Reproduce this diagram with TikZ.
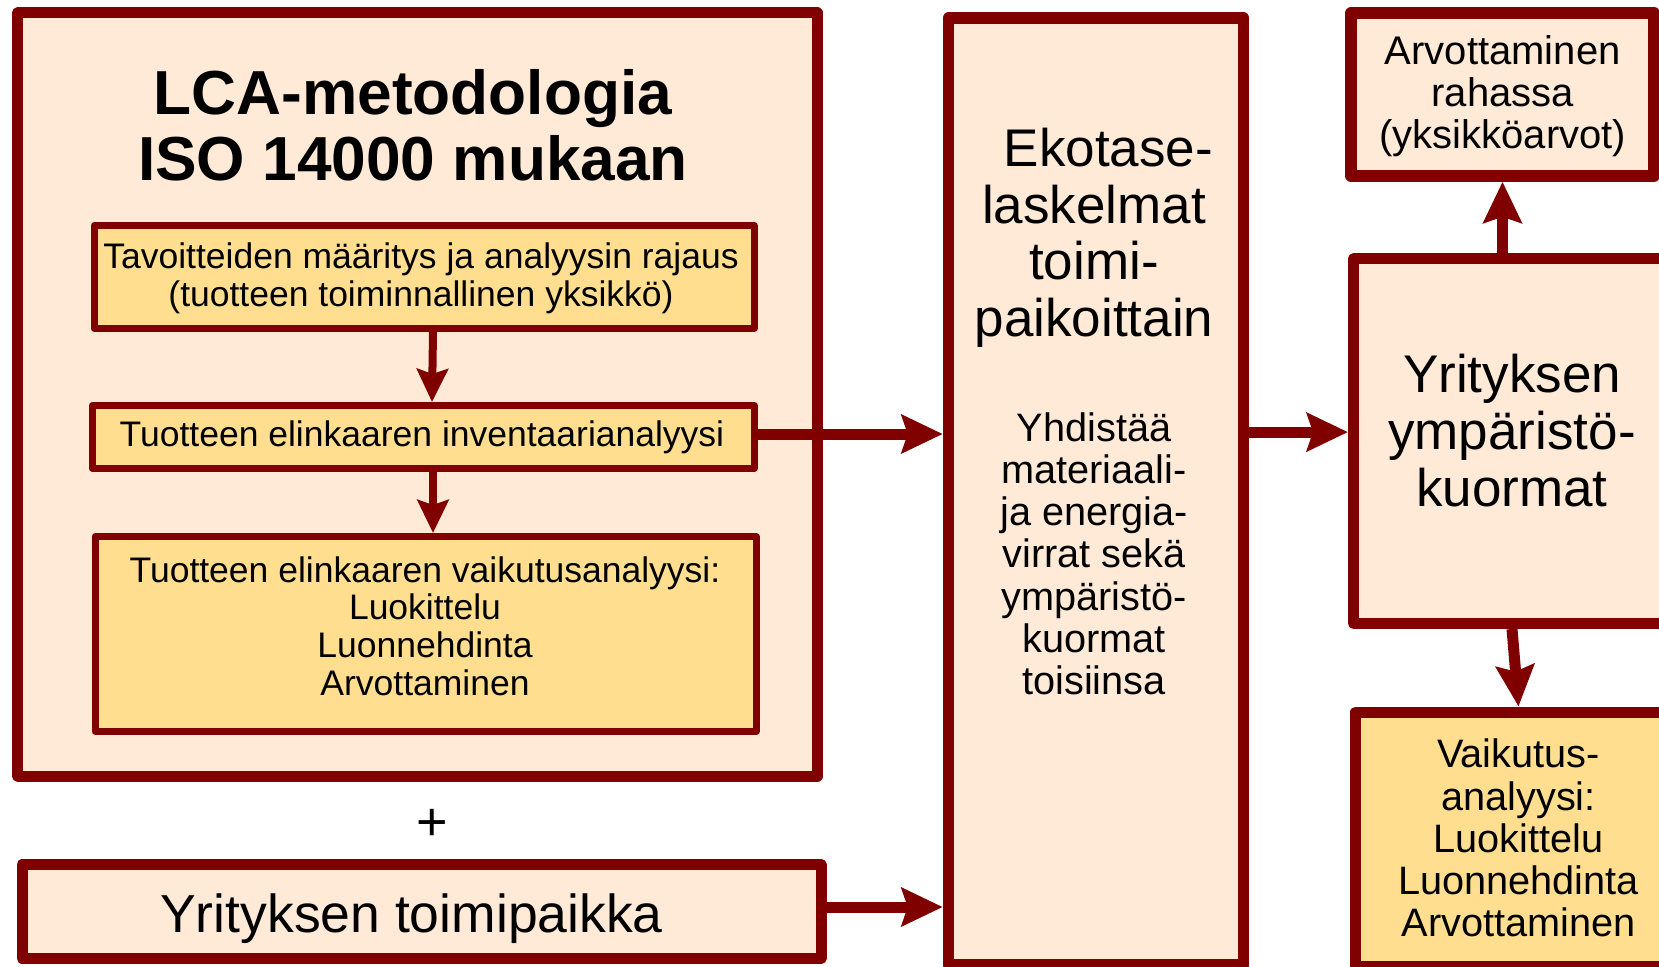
\documentclass[tikz,border=0pt]{standalone}
\usepackage{fontspec}
\setmainfont{Liberation Sans}
\usetikzlibrary{arrows.meta,calc}
\definecolor{bord}{HTML}{800000}
\definecolor{peach}{HTML}{FFEAD7}
\definecolor{gold}{HTML}{FFDF8F}
\begin{document}
\begin{tikzpicture}[x=1pt,y=-1pt,
  bigbox/.style={draw=bord, fill=peach, line width=11pt, line join=round, inner sep=0pt},
  inbox/.style={draw=bord, fill=gold, line width=7pt, line join=round, inner sep=0pt},
  txt/.style={inner sep=0pt, align=center, font={\fontsize{35.5pt}{37.7pt}\selectfont}},
  bigtxt/.style={inner sep=0pt, align=center, font={\fontsize{53pt}{56.6pt}\selectfont}},
  medtxt/.style={inner sep=0pt, align=center, font={\fontsize{39.7pt}{42.2pt}\selectfont}},
  bigarr/.style={draw=bord, line width=11pt, -{Stealth[length=41pt,width=38pt,inset=6pt]}},
  smallarr/.style={draw=bord, line width=8pt, -{Stealth[length=33pt,width=31pt,inset=5pt]}}]
\useasboundingbox (0,0) rectangle (1659,966);
% left block
\node[bigbox, minimum width=799.5pt, minimum height=763pt] (lca) at (417.25,394.5) {};
\node[inner sep=0pt, align=center, font={\fontsize{62.2pt}{66.7pt}\selectfont\bfseries}] (title) at (413,125.3) {LCA-metodologia\\ISO 14000 mukaan};
\node[inbox, minimum width=660pt, minimum height=103pt] (b1) at (424,277) {};
\node[txt] (t1) at (421,278) {Tavoitteiden määritys ja analyysin rajaus\\(tuotteen toiminnallinen yksikkö)};
\node[inbox, minimum width=662pt, minimum height=63pt] (b2) at (423,437) {};
\node[txt] (t2) at (422,437.5) {Tuotteen elinkaaren inventaarianalyysi};
\node[inbox, minimum width=661pt, minimum height=195pt] (b3) at (425.5,634) {};
\node[txt] (t3) at (425,626) {Tuotteen elinkaaren vaikutusanalyysi:\\Luokittelu\\Luonnehdinta\\Arvottaminen};
\node[inner sep=0pt, font={\fontsize{54pt}{60pt}\selectfont}] (plus) at (432,825) {+};
\node[bigbox, minimum width=799pt, minimum height=94pt] (tp) at (421.5,911.5) {};
\node[inner sep=0pt, anchor=base, font={\fontsize{53.5pt}{58pt}\selectfont}] (tpt) at (411.5,932) {Yrityksen toimipaikka};
% middle
\node[bigbox, line width=11.5pt, minimum width=295pt, minimum height=947pt] (mid) at (1096,491.5) {};
\node[bigtxt] (mt1) at (1094,237.7) {\hspace*{29pt}Ekotase-\\laskelmat\\toimi-\\paikoittain};
\node[medtxt] (mt2) at (1094,553.7) {Yhdistää\\materiaali-\\ja energia-\\virrat sekä\\ympäristö-\\kuormat\\toisiinsa};
% right
\node[bigbox, minimum width=317pt, minimum height=364.8pt] (rb) at (1512,441.1) {};
\node[bigtxt] (rt) at (1512,430.6) {Yrityksen\\ympäristö-\\kuormat};
\node[bigbox, line width=11.5pt, minimum width=303pt, minimum height=163pt] (tb) at (1502.5,94.5) {};
\node[inner sep=0pt, align=center, font={\fontsize{40pt}{41.7pt}\selectfont}] (tt) at (1502.7,96.3) {Arvottaminen\\rahassa\\(yksikköarvot)};
\node[bigbox, fill=gold, minimum width=326pt, minimum height=254.2pt] (vb) at (1518.5,839.1) {};
\node[medtxt] (vt) at (1518.5,838) {Vaikutus-\\analyysi:\\Luokittelu\\Luonnehdinta\\Arvottaminen};
% arrows
\draw[smallarr] ([xshift=9pt]b1.south) -- ([xshift=9pt]b2.north);
\draw[smallarr] ([xshift=10pt]b2.south) -- ([xshift=10pt]b2.south |- b3.north);
\coordinate (a1s) at ([yshift=3pt]b2.east);
\draw[bigarr] (a1s) -- (a1s -| mid.west);
\coordinate (a2s) at ([yshift=4.5pt]tp.east);
\draw[bigarr] (a2s) -- (a2s -| mid.west);
\coordinate (a3e) at ([yshift=9pt]rb.west);
\draw[bigarr] (a3e -| mid.east) -- (a3e);
\draw[bigarr] (rb.north -| tb.south) -- (tb.south);
\draw[bigarr] (rb.south) -- (vb.north);
\end{tikzpicture}
\end{document}
